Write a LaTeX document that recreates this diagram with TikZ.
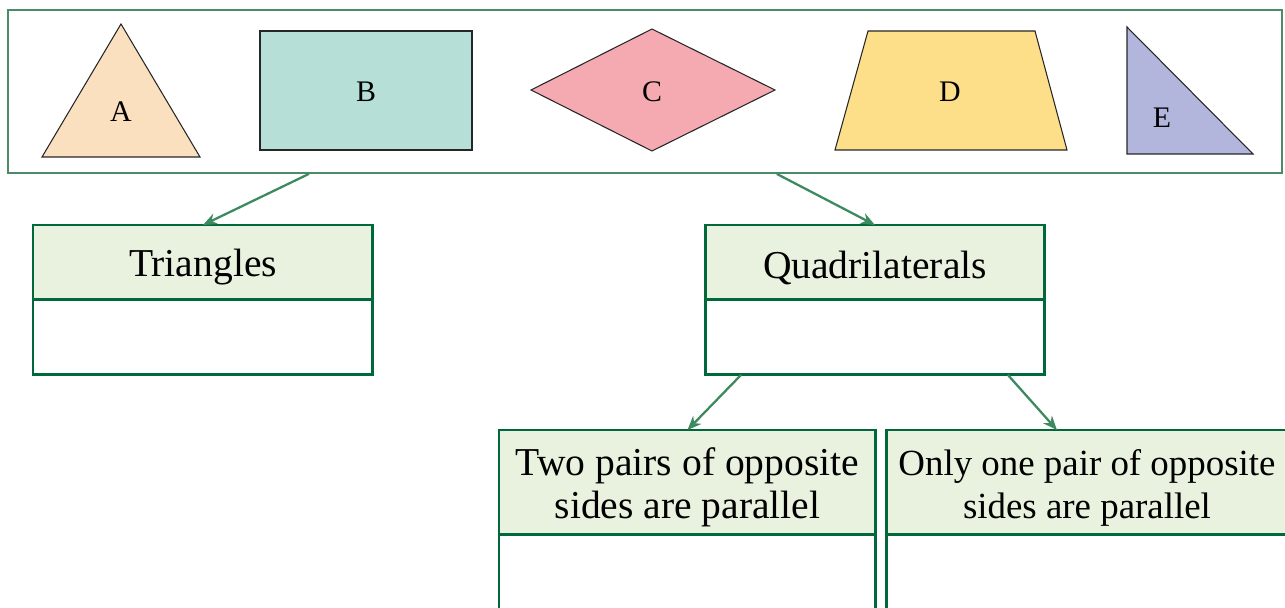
\documentclass[tikz,border=0pt]{standalone}
\usepackage{fontspec}
\setmainfont{Liberation Serif}
\usetikzlibrary{positioning,arrows.meta}

\definecolor{boxgreen}{HTML}{00683A}
\definecolor{framegreen}{HTML}{4C8B68}
\definecolor{arrowgreen}{HTML}{3E8A60}
\definecolor{headfill}{HTML}{E9F2DF}
\definecolor{fillA}{HTML}{FBE0C0}
\definecolor{fillB}{HTML}{B5DFD7}
\definecolor{fillC}{HTML}{F5AAB1}
\definecolor{fillD}{HTML}{FDDF8A}
\definecolor{fillE}{HTML}{B3B6DC}

\tikzset{
  headbox/.style={draw=boxgreen, fill=headfill, line width=1.7pt, outer sep=0pt, inner sep=0pt},
  headtext/.style={inner sep=0pt, align=center, font=\fontsize{22.5}{24.5}\selectfont},
  bodybox/.style={draw=boxgreen, line width=1.7pt, outer sep=0pt, inner sep=0pt},
  arr/.style={draw=arrowgreen, line width=1.3pt, -{Stealth[length=8pt, width=6.5pt]}},
  shapeline/.style={draw=black!85, line width=0.6pt, line join=miter},
  shapelabel/.style={inner sep=0pt, font=\fontsize{17}{17}\selectfont}
}

\begin{document}
\begin{tikzpicture}[x=0.02cm, y=-0.02cm]
  \path[use as bounding box, clip] (0,0) rectangle (1285,608);

  % the five figures
  \node[draw=framegreen, line width=1.1pt, minimum width=25.48cm, minimum height=3.26cm,
    anchor=north west, inner sep=0pt] (shapes) at (7,9) {};
  \draw[shapeline, fill=fillA] (42,157) -- (121,24) -- (200,157) -- cycle;
  \node[shapelabel] (labA) at (121,112) {A};
  \draw[shapeline, fill=fillB] (260,31) rectangle (472,150);
  \node[shapelabel] (labB) at (366,92) {B};
  \draw[shapeline, fill=fillC] (531,90) -- (652,29) -- (775,90) -- (652,151) -- cycle;
  \node[shapelabel] (labC) at (652,92) {C};
  \draw[shapeline, fill=fillD] (835,150) -- (868,31) -- (1035,31) -- (1067,150) -- cycle;
  \node[shapelabel] (labD) at (950,92) {D};
  \draw[shapeline, fill=fillE] (1127,27) -- (1127,154) -- (1253,154) -- cycle;
  \node[shapelabel] (labE) at (1162,118) {E};

  % classification boxes
  \node[headbox, minimum width=6.8cm, minimum height=1.5cm, anchor=north west] (triHead) at (33,225) {};
  \node[bodybox, minimum width=6.8cm, minimum height=1.5cm, below=0pt of triHead] (triBody) {};
  \node[headtext] (triText) at ([yshift=-0.1cm]triHead.center) {Triangles};

  \node[headbox, minimum width=6.8cm, minimum height=1.5cm, anchor=north west] (quadHead) at (705,225) {};
  \node[bodybox, minimum width=6.8cm, minimum height=1.5cm, below=0pt of quadHead] (quadBody) {};
  \node[headtext] (quadText) at ([yshift=-0.1cm]quadHead.center) {Quadrilaterals};

  \node[headbox, minimum width=7.54cm, minimum height=2.1cm, anchor=north west] (twoHead) at (499,430) {};
  \node[bodybox, minimum width=7.54cm, minimum height=2.2cm, below=0pt of twoHead] (twoBody) {};
  \node[headtext] (twoText) at ([yshift=-0.1cm]twoHead.center) {Two pairs of opposite\\sides are parallel};

  \node[headbox, minimum width=8.4cm, minimum height=2.1cm, anchor=north west] (oneHead) at (886,430) {};
  \node[bodybox, minimum width=8.4cm, minimum height=2.2cm, below=0pt of oneHead] (oneBody) {};
  \node[headtext, font=\fontsize{21}{24.5}\selectfont] (oneText) at ([xshift=-0.18cm, yshift=-0.1cm]oneHead.center)
    {Only one pair of opposite\\sides are parallel};

  % arrows
  \draw[arr] ([xshift=-6.72cm]shapes.south) -- (triHead.north);
  \draw[arr] ([xshift=2.64cm]shapes.south) -- (quadHead.north);
  \draw[arr] ([xshift=-2.68cm]quadBody.south) -- (twoHead.north);
  \draw[arr] ([xshift=2.66cm]quadBody.south) -- ([xshift=-0.78cm]oneHead.north);
\end{tikzpicture}
\end{document}
